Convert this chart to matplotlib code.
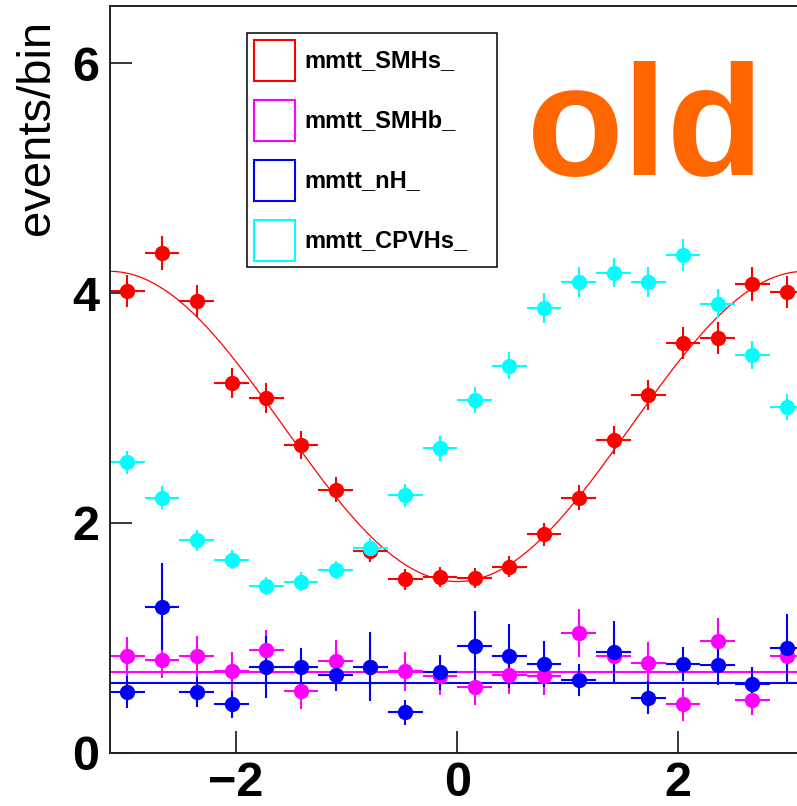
import numpy as np
import matplotlib.pyplot as plt
from matplotlib.patches import Patch

# Binning: 20 bins in phi from -pi to pi
n_bins = 20
bin_edges = np.linspace(-np.pi, np.pi, n_bins + 1)
bin_centers = 0.5 * (bin_edges[:-1] + bin_edges[1:])
half_width = 0.5 * (bin_edges[1] - bin_edges[0])

# Histogram contents (events/bin) and errors
smhs_vals = [4.02, 4.35, 3.93, 3.22, 3.09, 2.68, 2.29, 1.76, 1.51, 1.53,
             1.52, 1.62, 1.90, 2.22, 2.72, 3.11, 3.57, 3.61, 4.08, 4.01]
smhs_errs = [0.14, 0.15, 0.14, 0.13, 0.13, 0.12, 0.11, 0.10, 0.09, 0.09,
             0.09, 0.09, 0.10, 0.11, 0.12, 0.13, 0.14, 0.14, 0.15, 0.14]

smhb_vals = [0.84, 0.81, 0.84, 0.71, 0.89, 0.54, 0.80, 0.75, 0.71, 0.67,
             0.575, 0.68, 0.67, 1.04, 0.84, 0.78, 0.42, 0.97, 0.46, 0.84]
smhb_errs = [0.17, 0.16, 0.18, 0.17, 0.18, 0.16, 0.18, 0.17, 0.17, 0.17,
             0.16, 0.17, 0.17, 0.21, 0.18, 0.18, 0.14, 0.20, 0.13, 0.18]

nh_vals = [0.53, 1.27, 0.53, 0.42, 0.75, 0.75, 0.68, 0.75, 0.35, 0.70,
           0.93, 0.84, 0.77, 0.63, 0.88, 0.48, 0.77, 0.76, 0.60, 0.91]
nh_errs = [0.14, 0.38, 0.13, 0.12, 0.27, 0.16, 0.14, 0.30, 0.11, 0.15,
           0.30, 0.28, 0.20, 0.14, 0.27, 0.14, 0.15, 0.17, 0.15, 0.30]

cpvhs_vals = [2.53, 2.22, 1.85, 1.68, 1.45, 1.49, 1.59, 1.78, 2.24, 2.65,
              3.07, 3.37, 3.87, 4.10, 4.18, 4.10, 4.33, 3.91, 3.46, 3.01]
cpvhs_errs = [0.10, 0.10, 0.09, 0.085, 0.08, 0.08, 0.08, 0.09, 0.10, 0.11,
              0.11, 0.12, 0.13, 0.13, 0.13, 0.13, 0.14, 0.13, 0.12, 0.11]

# Fit results: SMHs with p0 + p1*cos(phi), SMHb and nH with a constant
smhs_p0 = 2.84
smhs_p1 = -1.35
smhb_const = 0.70
nh_const = 0.61

labels = ["mmtt_SMHs_", "mmtt_SMHb_", "mmtt_nH_", "mmtt_CPVHs_"]
colors = ["#ff0000", "#ff00ff", "#0000ff", "#00ffff"]

plt.rcParams['font.family'] = ['Liberation Sans', 'DejaVu Sans']

fig = plt.figure(figsize=(7.97, 8.06), dpi=100)
# axes runs a bit past the right edge of the canvas, like the cropped original
ax = fig.add_axes([110 / 797, 1 - 752.7 / 806, 694.5 / 797, 746.7 / 806])

marker_style = dict(fmt='o', markersize=10, elinewidth=1.5, capsize=0)

# SMHs + cosine fit
ax.errorbar(bin_centers, smhs_vals, xerr=half_width, yerr=smhs_errs,
            color=colors[0], **marker_style)
phi = np.linspace(-np.pi, np.pi, 400)
ax.plot(phi, smhs_p0 + smhs_p1 * np.cos(phi), color=colors[0], lw=0.9)

# SMHb + constant fit
ax.errorbar(bin_centers, smhb_vals, xerr=half_width, yerr=smhb_errs,
            color=colors[1], **marker_style)
ax.axhline(smhb_const, color=colors[1], lw=1.5)

# nH + constant fit
ax.errorbar(bin_centers, nh_vals, xerr=half_width, yerr=nh_errs,
            color=colors[2], **marker_style)
ax.axhline(nh_const, color=colors[2], lw=1.5)

# CPVHs
ax.errorbar(bin_centers, cpvhs_vals, xerr=half_width, yerr=cpvhs_errs,
            color=colors[3], **marker_style)

ax.set_xlim(-np.pi, np.pi)
ax.set_ylim(0, 6.5)
ax.set_xticks([-2, 0, 2])
ax.set_yticks([0, 2, 4, 6])
ax.set_xticklabels(["\u22122", "0", "2"])
ax.tick_params(direction='in', length=16, width=1.1, labelsize=35,
               top=False, right=False)
ax.tick_params(axis='x', pad=6)
ax.tick_params(axis='y', pad=8)
for lbl in ax.get_xticklabels() + ax.get_yticklabels():
    lbl.set_fontweight('bold')
for side in ax.spines.values():
    side.set_linewidth(1.4)
    side.set_color('#222222')

fig.text(37 / 797, 1 - 20 / 806, "events/bin", rotation=90, ha='center',
         va='top', fontsize=34)

# Legend with open boxes
handles = [Patch(facecolor='none', edgecolor=c, lw=1.5) for c in colors]
leg = ax.legend(handles, labels, loc='upper left',
                bbox_to_anchor=(247 / 797, 1 - 261 / 806, 250 / 797, 228 / 806),
                bbox_transform=fig.transFigure, mode='expand', borderaxespad=0,
                prop={'weight': 'bold', 'size': 17}, handlelength=1.75,
                handleheight=2.3, handletextpad=0.4, labelspacing=0.8,
                borderpad=0.28, fancybox=False, framealpha=1)
leg.get_frame().set_edgecolor('black')
leg.get_frame().set_linewidth(1.1)

fig.text(527 / 797, 1 - 175 / 806, "old", color='#ff6600', fontsize=114,
         fontweight='bold', ha='left', va='baseline')

plt.savefig("out.png", dpi=100)
plt.close()
